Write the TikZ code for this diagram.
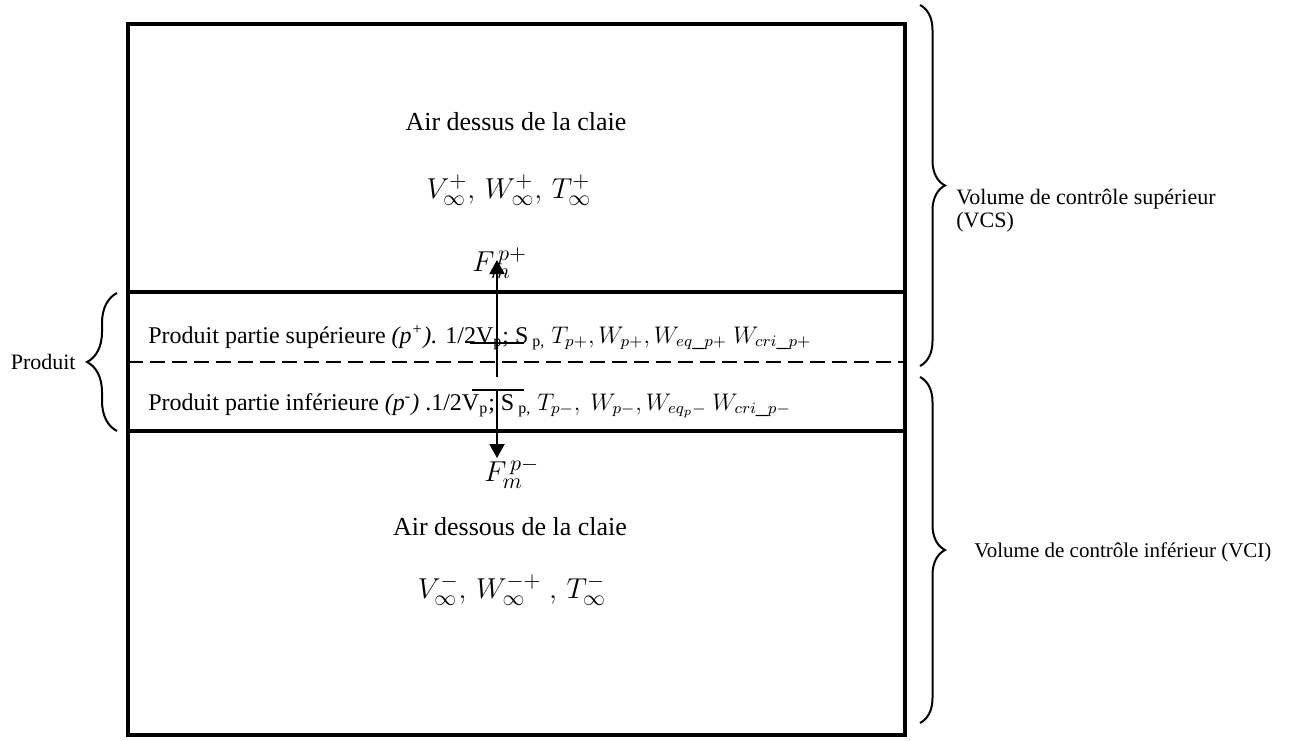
\documentclass[tikz,border=0pt]{standalone}
\usepackage{fontspec}
\setmainfont{Liberation Serif}
\usetikzlibrary{arrows.meta,decorations.pathreplacing}
\begin{document}
\begin{tikzpicture}[x=0.5pt,y=-0.5pt,
  frame/.style={line width=2.2pt},
  dashsep/.style={line width=1pt,dash pattern=on 7.5pt off 3.5pt},
  flux/.style={line width=1pt,-{Triangle[width=7.5pt,length=7pt]}},
  bracer/.style={line width=1pt,decorate,decoration={brace,amplitude=12.5pt}},
  bracel/.style={line width=1pt,decorate,decoration={brace,amplitude=15pt}},
  thinline/.style={line width=0.6pt},
  big/.style={font=\fontsize{13}{15.6}\selectfont,inner sep=0pt},
  bigmath/.style={font=\fontsize{15}{18}\selectfont,inner sep=0pt},
  fluxlbl/.style={font=\fontsize{15}{18}\selectfont,inner sep=0pt},
  mid/.style={font=\fontsize{12}{14.4}\selectfont,inner sep=0pt},
  side/.style={font=\fontsize{11}{11.5}\selectfont,inner sep=0pt},
  sidesm/.style={font=\fontsize{10.5}{11}\selectfont,inner sep=0pt},
]
\useasboundingbox (0,0) rectangle (1291,740);
% frame and separators
\coordinate (TL) at (128,24);
\coordinate (BR) at (905,735);
\draw[frame] (TL) rectangle (BR);
\coordinate (s1l) at (128,292); \coordinate (s1r) at (905,292);
\coordinate (s2l) at (128,431); \coordinate (s2r) at (905,431);
\coordinate (dl) at (128,362); \coordinate (dr) at (905,362);
\draw[frame] (s1l) -- (s1r);
\draw[frame] (s2l) -- (s2r);
\draw[dashsep] (dl) -- (dr);
% texts
\node[big] (airup) at (516,122) {Air dessus de la claie};
\node[bigmath] (mathup) at (509,190) {$V_\infty^+,\, W_\infty^+,\, T_\infty^+$};
\node[big] (airdn) at (510,527) {Air dessous de la claie};
\node[bigmath] (mathdn) at (512,590) {$V_\infty^-,\, W_\infty^{-+}\ ,\, T_\infty^-$};
\node[mid,anchor=base west] (pup) at (148,343) {Produit partie supérieure \textit{(p\textsuperscript{+}).} 1/2V\textsubscript{p}; S\textsubscript{ p,} $T_{p+}, W_{p+}, W_{eq\_p+}\ W_{cri\_p+}$};
\node[mid,anchor=base west] (pdn) at (148,410) {Produit partie inférieure \textit{(p\textsuperscript{-}) }.1/2V\textsubscript{p}; S\textsubscript{ p,} $T_{p-},\ W_{p-}, W_{eq_p-}\ W_{cri\_p-}$};
% artifact lines
\coordinate (u1) at (470,343); \coordinate (u2) at (524,343);
\coordinate (o1) at (472,390); \coordinate (o2) at (524,390);
\draw[thinline] (u1) -- (u2);
\draw[thinline] (o1) -- (o2);
% flux arrows
\coordinate (upS) at (497,377); \coordinate (upE) at (497,260);
\coordinate (dnS) at (497,390); \coordinate (dnE) at (497,458);
\node[fluxlbl,anchor=base west] (fup) at (472,271) {$F_m^{\,p+}$};
\node[fluxlbl,anchor=base west] (fdn) at (484,481) {$F_m^{\,p-}$};
\draw[flux] (upS) -- (upE);
\draw[flux] (dnS) -- (dnE);
% braces
\coordinate (b1a) at (920,5); \coordinate (b1b) at (920,366);
\coordinate (b2a) at (920,377); \coordinate (b2b) at (920,723);
\coordinate (b3a) at (117,431); \coordinate (b3b) at (117,293);
\draw[bracer] (b1a) -- (b1b);
\draw[bracer] (b2a) -- (b2b);
\draw[bracel] (b3a) -- (b3b);
\node[side,anchor=west,align=left] (vcs) at (956,211) {Volume de contrôle supérieur\\(VCS)};
\node[sidesm,anchor=west] (vci) at (974,552) {Volume de contrôle inférieur (VCI)};
\node[side,anchor=east] (prod) at (76,362) {Produit};
\end{tikzpicture}
\end{document}
